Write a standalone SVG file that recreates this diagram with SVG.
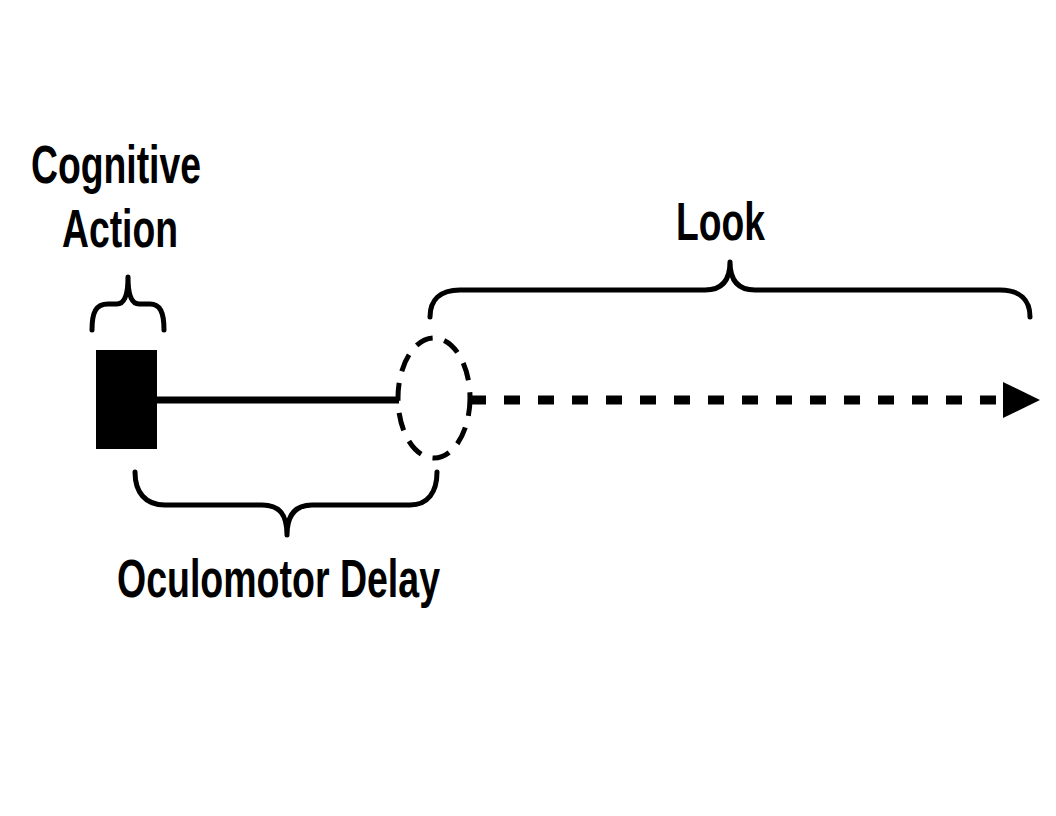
<svg xmlns="http://www.w3.org/2000/svg" width="1056" height="816" viewBox="0 0 1056 816">
<style>
.t{font-family:"Liberation Sans Narrow","Liberation Sans",Arial,sans-serif;font-weight:bold;font-size:54px;fill:#000}
.br{fill:none;stroke:#000;stroke-width:5;stroke-linecap:round;stroke-linejoin:round}
</style>
<defs>
<marker id="ah" markerUnits="userSpaceOnUse" markerWidth="40" markerHeight="40" refX="37" refY="18" orient="auto">
<path d="M0,0 L37,18 L0,36 Z" fill="#000"/>
</marker>
</defs>
<rect width="1056" height="816" fill="#fff"/>
<g id="connectors">
<line x1="157" y1="400" x2="399" y2="400" stroke="#000" stroke-width="7"/>
<line x1="470" y1="400" x2="1040" y2="400" stroke="#000" stroke-width="9" stroke-dasharray="16 18" marker-end="url(#ah)"/>
</g>
<g id="cognitive-action">
<rect x="96" y="350" width="61" height="99" fill="#000"/>
<path class="br" d="M92,330 C92,312 96,304 108,304 L117,304 C124,304 128,296 128,277 C128,296 132,304 139,304 L150,304 C160,304 164,312 164,330"/>
<text class="t" x="31" y="183" textLength="170" lengthAdjust="spacingAndGlyphs">Cognitive</text>
<text class="t" x="62" y="247" textLength="116" lengthAdjust="spacingAndGlyphs">Action</text>
</g>
<g id="saccade">
<ellipse cx="434" cy="398" rx="36" ry="60" fill="none" stroke="#000" stroke-width="5" stroke-dasharray="18 12"/>
</g>
<g id="oculomotor-delay">
<path class="br" d="M135,472 C135,492 145,505 165,505 L262,505 C280,505 287,515 287,535 C287,515 295,505 312,505 L410,505 C428,505 437,492 437,472"/>
<text class="t" x="117" y="597" textLength="323" lengthAdjust="spacingAndGlyphs">Oculomotor Delay</text>
</g>
<g id="look">
<path class="br" d="M430,317 C430,300 440,290 460,290 L705,290 C722,290 730,280 730,262 C730,280 738,290 755,290 L1000,290 C1020,290 1030,300 1030,317"/>
<text class="t" x="676" y="240" textLength="89" lengthAdjust="spacingAndGlyphs">Look</text>
</g>
</svg>
